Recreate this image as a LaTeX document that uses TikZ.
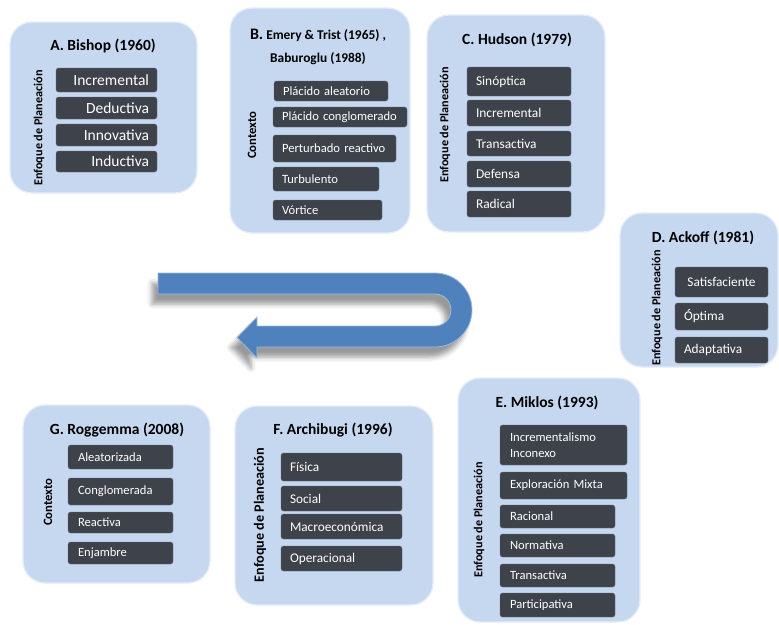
\documentclass[tikz,border=0pt]{standalone}
\usepackage{fontspec}
\setmainfont{Carlito}
\usepackage{tikz}
\usetikzlibrary{positioning,calc,shadows.blur}

\definecolor{panelblue}{RGB}{197,216,240}
\definecolor{itemgray}{RGB}{62,66,74}
\definecolor{itemedge}{RGB}{105,110,118}
\definecolor{arrowblue}{RGB}{79,129,189}

\begin{document}
\begin{tikzpicture}[x=1pt, y=-1pt,
    every node/.style={font=\fontsize{12.6}{16}\selectfont},
    panel/.style={draw=white!55!panelblue, line width=1.3pt, fill=panelblue, rounded corners=22pt, inner sep=0pt},
    ptitle/.style={font=\fontsize{15.5}{18}\selectfont\bfseries},
    side/.style={rotate=90, font=\fontsize{12.2}{14}\selectfont\bfseries},
    item/.style={draw=itemedge, fill=itemgray, rounded corners=2.5pt, text=white, inner xsep=9pt, inner ysep=0pt, align=left}]
    \useasboundingbox (0,0) rectangle (779,624);

    % U-turn arrow
    \fill[arrowblue, draw=arrowblue!55!white, line width=0.8pt, blur shadow={shadow xshift=-6pt, shadow yshift=-10pt, shadow opacity=40, shadow blur radius=5pt}]
        (158,273) -- (435,273) arc[start angle=90, end angle=-90, radius=37pt]
        -- (257,347) -- (257,358) -- (237,337.5) -- (257,317) -- (257,326) -- (435,326)
        arc[start angle=-90, end angle=90, radius=16pt] -- (158,294) -- cycle;

    % A. Bishop
    \node[panel, minimum width=187pt, minimum height=171pt] (pa) at (103.5,107.5) {};
    \node[ptitle] (ta) at (103,46) {A. Bishop (1960)};
    \node[side] (la) at (39,128) {Enfoque de Planeación};
    \node[item, align=right, inner xsep=8pt, text width=85pt, minimum height=24pt, font=\fontsize{15.5}{18}\selectfont] (a1) at (106.5,80) {Incremental};
    \node[item, align=right, inner xsep=8pt, text width=85pt, minimum height=22pt, font=\fontsize{15.5}{18}\selectfont] (a2) at (106.5,108) {Deductiva};
    \node[item, align=right, inner xsep=8pt, text width=85pt, minimum height=22pt, font=\fontsize{15.5}{18}\selectfont] (a3) at (106.5,135) {Innovativa};
    \node[item, align=right, inner xsep=8pt, text width=85pt, minimum height=21pt, font=\fontsize{15.5}{18}\selectfont] (a4) at (106.5,161.5) {Inductiva};

    % B. Emery & Trist, Baburoglu
    \node[panel, minimum width=180pt, minimum height=225pt] (pb) at (320,120.5) {};
    \node[align=center, font=\fontsize{13.4}{23}\selectfont\bfseries] (tb) at (318,46.5) {{\fontsize{16}{16}\selectfont B.} Emery \& Trist (1965) ,\\Baburoglu (1988)};
    \node[side, font=\fontsize{12.7}{14}\selectfont\bfseries] (lb) at (252,135) {Contexto};
    \node[item, text width=96pt, minimum height=20pt] (b1) at (331,91) {Plácido aleatorio};
    \node[item, text width=116pt, minimum height=20pt] (b2) at (340,117) {Plácido conglomerado};
    \node[item, text width=105pt, minimum height=27pt] (b3) at (334.5,148.5) {Perturbado reactivo};
    \node[item, text width=88pt, minimum height=24pt] (b4) at (326,179) {Turbulento};
    \node[item, text width=91pt, minimum height=20pt] (b5) at (327.5,210) {Vórtice};

    % C. Hudson
    \node[panel, minimum width=178pt, minimum height=217pt] (pc) at (516,123.5) {};
    \node[ptitle] (tc) at (517,40) {C. Hudson (1979)};
    \node[side] (lc) at (445,125) {Enfoque de Planeación};
    \node[item, text width=86pt, minimum height=29pt, font=\fontsize{13.4}{16}\selectfont] (c1) at (519,81.5) {Sinóptica};
    \node[item, text width=86pt, minimum height=26pt, font=\fontsize{13.4}{16}\selectfont] (c2) at (519,113) {Incremental};
    \node[item, text width=86pt, minimum height=25pt, font=\fontsize{13.4}{16}\selectfont] (c3) at (519,143.5) {Transactiva};
    \node[item, text width=86pt, minimum height=26pt, font=\fontsize{13.4}{16}\selectfont] (c4) at (519,174) {Defensa};
    \node[item, text width=86pt, minimum height=26pt, font=\fontsize{13.4}{16}\selectfont] (c5) at (519,204) {Radical};

    % D. Ackoff
    \node[panel, minimum width=158pt, minimum height=154pt] (pd) at (699,290) {};
    \node[ptitle] (td) at (703,238) {D. Ackoff (1981)};
    \node[side] (ld) at (657,308) {Enfoque de Planeación};
    \node[item, align=center, text width=75pt, minimum height=30pt, font=\fontsize{13.3}{16}\selectfont] (d1) at (721.5,282) {Satisfaciente};
    \node[item, text width=75pt, minimum height=27pt, font=\fontsize{13.3}{16}\selectfont] (d2) at (721.5,316.5) {Óptima};
    \node[item, text width=75pt, minimum height=26pt, font=\fontsize{13.3}{16}\selectfont] (d3) at (721.5,350) {Adaptativa};

    % E. Miklos
    \node[panel, minimum width=182pt, minimum height=244pt] (pe) at (549,500) {};
    \node[ptitle] (te) at (547,403) {E. Miklos (1993)};
    \node[side] (le) at (479,520) {Enfoque de Planeación};
    \node[item, inner xsep=10pt, text width=107pt, minimum height=40pt] (e1) at (563.5,445) {Incrementalismo\\Inconexo};
    \node[item, inner xsep=10pt, text width=107pt, minimum height=27pt] (e2) at (563.5,485.5) {Exploración Mixta};
    \node[item, inner xsep=10pt, text width=95pt, minimum height=23pt] (e3) at (557.5,516.5) {Racional};
    \node[item, inner xsep=10pt, text width=95pt, minimum height=23pt] (e4) at (557.5,545.5) {Normativa};
    \node[item, inner xsep=10pt, text width=95pt, minimum height=23pt] (e5) at (557.5,575.5) {Transactiva};
    \node[item, inner xsep=10pt, text width=95pt, minimum height=24pt] (e6) at (557.5,605) {Participativa};

    % F. Archibugi
    \node[panel, minimum width=198pt, minimum height=199pt] (pf) at (334,505.5) {};
    \node[ptitle] (tf) at (333,430) {F. Archibugi (1996)};
    \node[side, font=\fontsize{14.2}{16}\selectfont\bfseries] (lf) at (260,515) {Enfoque de Planeación};
    \node[item, text width=103pt, minimum height=28pt, font=\fontsize{13.3}{16}\selectfont] (f1) at (341.5,467) {Física};
    \node[item, text width=103pt, minimum height=25pt, font=\fontsize{13.3}{16}\selectfont] (f2) at (341.5,498.5) {Social};
    \node[item, text width=103pt, minimum height=25pt, font=\fontsize{13.3}{16}\selectfont] (f3) at (341.5,526.5) {Macroeconómica};
    \node[item, text width=103pt, minimum height=25pt, font=\fontsize{13.3}{16}\selectfont] (f4) at (341.5,558.5) {Operacional};

    % G. Roggemma
    \node[panel, minimum width=187pt, minimum height=178pt] (pg) at (116.5,494) {};
    \node[ptitle] (tg) at (117,430) {G. Roggemma (2008)};
    \node[side, font=\fontsize{12.7}{14}\selectfont\bfseries] (lg) at (48,502) {Contexto};
    \node[item, inner xsep=10pt, text width=85pt, minimum height=24pt] (g1) at (120.5,457) {Aleatorizada};
    \node[item, inner xsep=10pt, text width=85pt, minimum height=27pt] (g2) at (120.5,491.5) {Conglomerada};
    \node[item, inner xsep=10pt, text width=85pt, minimum height=21pt] (g3) at (120.5,522.5) {Reactiva};
    \node[item, inner xsep=10pt, text width=85pt, minimum height=22pt] (g4) at (120.5,553) {Enjambre};
\end{tikzpicture}
\end{document}
